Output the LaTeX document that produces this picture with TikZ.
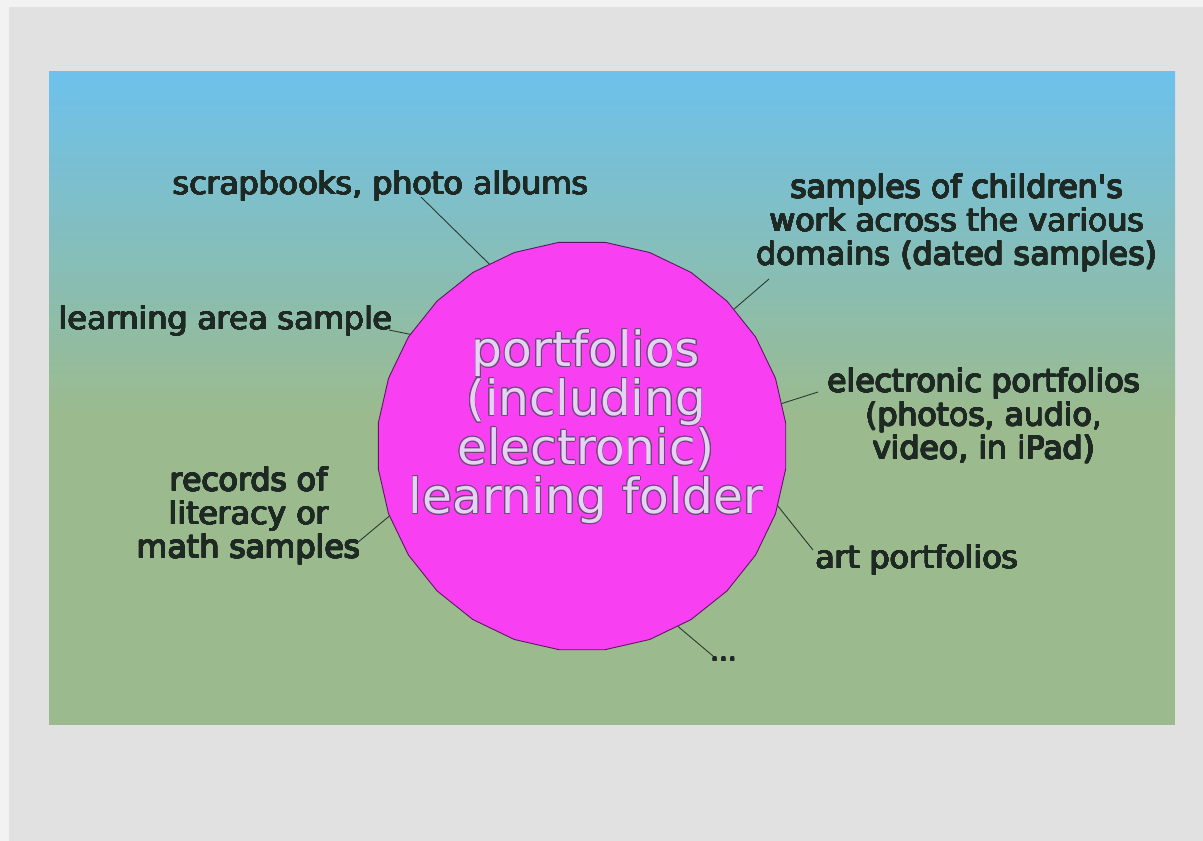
\documentclass[tikz,border=0pt]{standalone}
\usepackage{fontspec}
\usepackage{contour}
\usetikzlibrary{shapes.geometric}
\newfontfamily\labfont{DejaVu Sans}
\newfontfamily\midfont{DejaVu Sans}
\definecolor{paperout}{HTML}{F2F2F2}
\definecolor{paperin}{HTML}{E1E1E1}
\definecolor{skyblue}{HTML}{6DC1EC}
\definecolor{grassgreen}{HTML}{9BBB8E}
\definecolor{magentafill}{HTML}{F93FF2}
\definecolor{circedge}{HTML}{5A1A5E}
\definecolor{labcol}{HTML}{1E2924}
\definecolor{lavender}{HTML}{E6D2F4}
\definecolor{lavedge}{HTML}{6E4A78}
\definecolor{linecol}{HTML}{2A3A30}
\newcommand{\outl}[1]{\contourlength{0.8pt}\contour{lavedge}{\textcolor{lavender}{#1}}}
\newcommand{\bl}[1]{\contourlength{0.45pt}\contour{labcol}{#1}}
\begin{document}
\begin{tikzpicture}[x=1pt,y=-1pt,
  lab/.style={font=\labfont\fontsize{31.5}{33.5}\selectfont, text=labcol, align=center, inner sep=0pt},
  conn/.style={draw=linecol, line width=0.9pt}]
\useasboundingbox (0,0) rectangle (1203,841);
\fill[paperout] (0,0) rectangle (1203,841);
\fill[paperin] (9,7) rectangle (1203,841);
\shade[top color=skyblue, bottom color=grassgreen] (49,71) rectangle (1175,415);
\fill[grassgreen] (49,414.5) rectangle (1175,725);
\node[regular polygon, regular polygon sides=28, minimum size=410pt, inner sep=0pt,
      fill=magentafill, draw=circedge, line width=0.9pt] (c) at (582,446) {};
\node[font=\midfont\fontsize{48.5}{49}\selectfont, align=center, inner sep=0pt] (ct) at (586,427)
  {\outl{portfolios}\\\outl{(including}\\\outl{electronic)}\\\outl{learning folder}};
\node[lab] (l1) at (381,186) {\bl{scrapbooks, photo albums}};
\node[lab] (l2) at (957,223) {\bl{samples of children's}\\\bl{work across the various}\\\bl{domains (dated samples)}};
\node[lab] (l3) at (226,321) {\bl{learning area sample}};
\node[lab] (l4) at (984,416) {\bl{electronic portfolios}\\\bl{(photos, audio,}\\\bl{video, in iPad)}};
\node[lab] (l5) at (249,516) {\bl{records of}\\\bl{literacy or}\\\bl{math samples}};
\node[lab] (l6) at (917,560) {\bl{art portfolios}};
\node[font=\labfont\fontsize{28}{28}\selectfont, text=labcol, inner sep=0pt, anchor=base west] (l7) at (710,661) {\bl{...}};
\coordinate (e1) at (421,197);
\coordinate (e2) at (769,279);
\coordinate (e3) at (389,330);
\coordinate (e4) at (818,392);
\coordinate (e5) at (357,543);
\coordinate (e6) at (813,550);
\coordinate (e7) at (713,656);
\draw[conn] (c.117.3) -- (e1);
\draw[conn] (c.42.2) -- (e2);
\draw[conn] (c.147.6) -- (e3);
\draw[conn] (c.12.1) -- (e4);
\draw[conn] (c.200.5) -- (e5);
\draw[conn] (c.-17.9) -- (e6);
\draw[conn] (c.-62.4) -- (e7);
\end{tikzpicture}
\end{document}
